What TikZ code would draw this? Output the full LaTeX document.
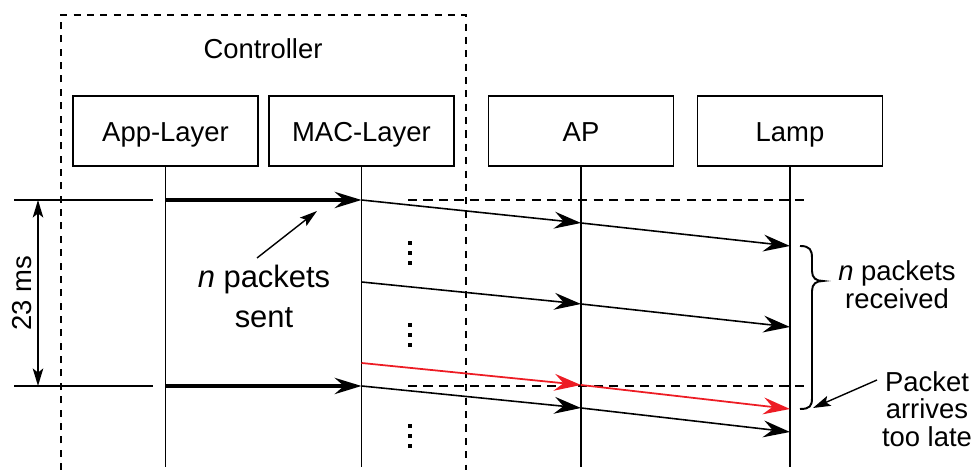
\documentclass[tikz,border=0pt]{standalone}
\usepackage{fontspec}
\setmainfont{Liberation Sans}
\usetikzlibrary{arrows.meta}
\definecolor{latered}{RGB}{237,28,36}
\begin{document}
\begin{tikzpicture}[x=0.01cm,y=-0.01cm,
  font=\fontsize{7.8}{7.9}\selectfont,
  box/.style={draw,line width=0.4pt,minimum width=1.85cm,minimum height=0.70cm,inner sep=0pt,text height=5.7pt,text depth=0pt},
  life/.style={line width=0.45pt},
  msg/.style={line width=0.45pt,-{Stealth[length=7.6pt,width=4.8pt,inset=2.6pt]}},
  big/.style={line width=1.1pt,-{Stealth[length=7.6pt,width=4.6pt,inset=2.6pt]}},
  guide/.style={line width=0.4pt,dash pattern=on 2.6pt off 1.8pt},
  ptr/.style={line width=0.4pt,-{Stealth[length=5pt,width=3pt,inset=1pt]}},
  dimarr/.style={line width=0.45pt,{Stealth[length=5pt,width=3pt,inset=1.2pt]}-{Stealth[length=5pt,width=3pt,inset=1.2pt]}},
  dotsq/.style={fill,inner sep=0pt,minimum size=0.035cm}
]
\useasboundingbox (0,0) rectangle (975,474);
% controller frame
\draw[line width=0.4pt,dash pattern=on 2pt off 1.8pt] (61,470) -- (61,15) -- (466,15) -- (466,470);
\node[anchor=base] (ctrl) at (263,59) {Controller};
% boxes
\node[box] (app) at (165.5,131) {App-Layer};
\node[box] (mac) at (361.5,131) {MAC-Layer};
\node[box] (ap) at (581,131) {AP};
\node[box] (lamp) at (790,131) {Lamp};
% lifeline ends
\coordinate (appe) at (165.5,467);
\coordinate (mace) at (361.5,467);
\coordinate (ape) at (581,467);
\coordinate (lampe) at (790,467);
\draw[life] (app.south) -- (appe);
\draw[life] (mac.south) -- (mace);
\draw[life] (ap.south) -- (ape);
\draw[life] (lamp.south) -- (lampe);
% message points
\coordinate (a1) at (165.5,200); \coordinate (m1) at (361.5,200);
\coordinate (p1) at (581,223);   \coordinate (l1) at (790,246);
\coordinate (m2) at (361.5,282); \coordinate (p2) at (581,304); \coordinate (l2) at (790,327);
\coordinate (m3) at (361.5,363); \coordinate (p3) at (581,385); \coordinate (l3) at (790,409);
\coordinate (a4) at (165.5,386); \coordinate (m4) at (361.5,386);
\coordinate (p4) at (581,408);   \coordinate (l4) at (790,432);
% guide lines
\coordinate (g1s) at (408,200); \coordinate (g1e) at (807,200);
\coordinate (g2s) at (408,386); \coordinate (g2e) at (807,386);
\draw[guide] (g1s) -- (g1e);
\draw[guide] (g2s) -- (g2e);
% thick arrows
\draw[big] (a1) -- (m1);
\draw[big] (a4) -- (m4);
% messages
\draw[msg] (m1) -- (p1);
\draw[msg] (p1) -- (l1);
\draw[msg] (m2) -- (p2);
\draw[msg] (p2) -- (l2);
\draw[msg,latered,line width=0.5pt] (m3) -- (p3);
\draw[msg,latered,line width=0.5pt] (p3) -- (l3);
\draw[msg] (m4) -- (p4);
\draw[msg] (p4) -- (l4);
% dots
\foreach \yy [count=\i] in {243,253,263,325,335,345,426,436,446} {
  \node[dotsq] (dot\i) at (410,\yy) {};
}
% dimension
\coordinate (t1s) at (14,200); \coordinate (t1e) at (153,200);
\coordinate (t2s) at (14,386); \coordinate (t2e) at (153,386);
\draw[line width=0.4pt] (t1s) -- (t1e);
\draw[line width=0.4pt] (t2s) -- (t2e);
\coordinate (d1) at (38,200); \coordinate (d2) at (38,386);
\draw[dimarr] (d1) -- (d2);
\node[rotate=90,inner sep=0pt,text height=5.7pt,text depth=0pt] (dimlab) at (21,293) {23 ms};
% sent label
\node[align=center,font=\fontsize{8.8}{11.4}\selectfont] (sent) at (264,296) {{\itshape n} packets\\sent};
\coordinate (sentp1) at (257,258); \coordinate (sentp2) at (317,211);
\draw[ptr] (sentp1) -- (sentp2);
% brace
\draw[line width=0.55pt] (800,246) .. controls (810,246) and (812,250) .. (812,258) -- (812,271)
  .. controls (812,278) and (816,281) .. (823,281)
  .. controls (816,281) and (812,284) .. (812,291) -- (812,398)
  .. controls (812,406) and (810,409) .. (800,409);
\node[align=center] (recv) at (897,285) {{\itshape n} packets\\received};
% late label
\node[align=center] (late) at (927,409) {Packet\\arrives\\too late};
\coordinate (lp1) at (877,380); \coordinate (lp2) at (813,408);
\draw[ptr] (lp1) -- (lp2);
\end{tikzpicture}
\end{document}
